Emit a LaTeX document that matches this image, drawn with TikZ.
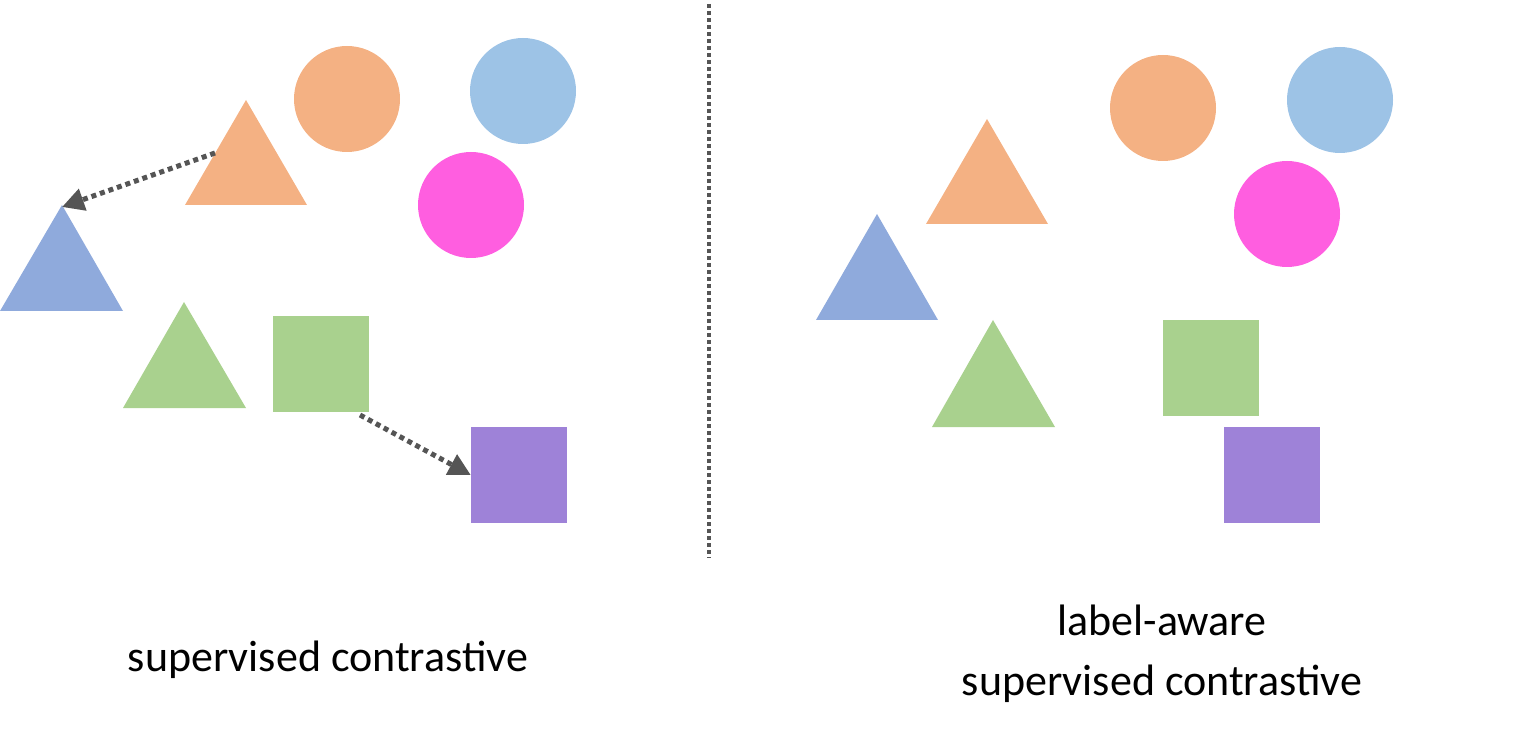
\documentclass[tikz,border=0pt]{standalone}
\usepackage{fontspec}
\setmainfont{Carlito}
\usetikzlibrary{arrows.meta}
\definecolor{orng}{HTML}{F4B183}
\definecolor{lblue}{HTML}{9DC3E6}
\definecolor{pnk}{HTML}{FF5EE0}
\definecolor{tblue}{HTML}{8FAADC}
\definecolor{grn}{HTML}{A9D18E}
\definecolor{prp}{HTML}{9E82D8}
\definecolor{dk}{HTML}{555555}
\begin{document}
\begin{tikzpicture}[x=1pt,y=-1pt,
  circ/.style={circle,fill=#1,minimum size=106pt,inner sep=0pt},
  sq/.style={fill=#1,minimum size=96pt,inner sep=0pt},
  arr/.style={dk,line width=5pt,dash pattern=on 5pt off 4pt,-{Triangle[length=22pt,width=22pt]}},
  lbl/.style={font=\fontsize{44pt}{60pt}\selectfont,align=center}]
\useasboundingbox (0,0) rectangle (1521,751);
% left
\node[circ=orng] (lo) at (347,99) {};
\node[circ=lblue] (lb) at (523,91) {};
\node[circ=pnk] (lp) at (471,205) {};
\fill[orng] (246,100) -- (307,205) -- (185,205) -- cycle;
\fill[tblue] (62,205) -- (123,311) -- (0,311) -- cycle;
\fill[grn] (184,302) -- (246,408) -- (123,408) -- cycle;
\node[sq=grn] (lg) at (321,364) {};
\node[sq=prp] (lq) at (519,475) {};
\coordinate (a1) at (215,153);
\coordinate (a1e) at (62,207);
\coordinate (a2) at (360,415);
\draw[arr] (a1) -- (a1e);
\draw[arr] (a2) -- (lq.west);
% divider
\coordinate (d1) at (709,4);
\coordinate (d2) at (709,558);
\draw[dk,line width=4pt,dash pattern=on 4pt off 3pt] (d1) -- (d2);
% right
\node[circ=orng] (ro) at (1163,108) {};
\node[circ=lblue] (rb) at (1340,100) {};
\node[circ=pnk] (rp) at (1287,214) {};
\fill[orng] (987,119) -- (1048,224) -- (926,224) -- cycle;
\fill[tblue] (877,214) -- (938,320) -- (816,320) -- cycle;
\fill[grn] (993,320) -- (1055,427) -- (932,427) -- cycle;
\node[sq=grn] (rg) at (1211,368) {};
\node[sq=prp] (rq) at (1272,475) {};
% labels
\node[lbl] (t1) at (328,660) {supervised contrastive};
\node[lbl] (t2) at (1162,654) {label-aware\\supervised contrastive};
\end{tikzpicture}
\end{document}
